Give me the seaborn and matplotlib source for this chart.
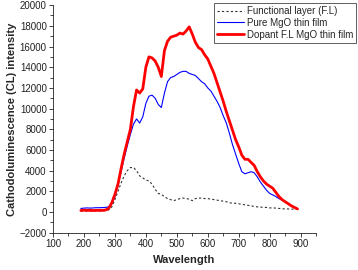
import numpy as np
import pandas as pd
import matplotlib
matplotlib.use("Agg")
import matplotlib.pyplot as plt
import seaborn as sns
from matplotlib.ticker import MultipleLocator

wavelength = list(range(190, 900, 10))

functional_layer = [100, 100, 100, 100, 100, 100, 100, 100, 150, 200,
                    500, 1200, 2000, 2800, 3500, 4000, 4300, 4300, 4000, 3500,
                    3300, 3100, 3000, 2700, 2200, 1800, 1700, 1500, 1300, 1200,
                    1100, 1200, 1300, 1350, 1300, 1250, 1100, 1300, 1350, 1350,
                    1300, 1300, 1250, 1200, 1150, 1100, 1050, 1000, 900, 850,
                    850, 800, 750, 700, 650, 600, 550, 500, 480, 450,
                    450, 400, 400, 380, 350, 320, 300, 300, 280, 280, 250]

pure_mgo = [350, 380, 400, 380, 400, 420, 420, 430, 450, 500,
            800, 1500, 2600, 3900, 5200, 6400, 7500, 8500, 9000, 8600,
            9200, 10500, 11200, 11300, 11000, 10400, 10100, 11500, 12600, 13000,
            13100, 13300, 13500, 13600, 13600, 13400, 13300, 13200, 12900, 12600,
            12400, 12000, 11700, 11200, 10700, 10100, 9300, 8600, 7600, 6500,
            5600, 4700, 3900, 3700, 3800, 3900, 3800, 3400, 2900, 2500,
            2100, 1800, 1650, 1500, 1300, 1150, 1000, 850, 650, 450, 300]

dopant_mgo = [150, 180, 160, 170, 150, 160, 170, 160, 200, 350,
              900, 1700, 2700, 4200, 5600, 6800, 8000, 10200, 11800, 11500,
              11900, 14000, 15000, 14900, 14600, 14000, 13100, 15600, 16500, 16900,
              17000, 17100, 17300, 17200, 17500, 17900, 17200, 16400, 15900, 15700,
              15200, 14800, 14100, 13400, 12500, 11600, 10700, 9700, 8800, 7900,
              7000, 6300, 5500, 5100, 5100, 4800, 4500, 3900, 3400, 3000,
              2700, 2500, 2300, 1900, 1500, 1200, 1000, 800, 600, 450, 300]

series_names = ["Functional layer (F.L)", "Pure MgO thin film", "Dopant F.L MgO thin film"]

df = pd.concat([
    pd.DataFrame({"Wavelength": wavelength, "Intensity": functional_layer, "Series": series_names[0]}),
    pd.DataFrame({"Wavelength": wavelength, "Intensity": pure_mgo, "Series": series_names[1]}),
    pd.DataFrame({"Wavelength": wavelength, "Intensity": dopant_mgo, "Series": series_names[2]}),
])

sns.set_style("ticks")
plt.rcParams["font.family"] = ["Liberation Sans", "DejaVu Sans"]

fig = plt.figure(figsize=(3.58, 2.70), dpi=100)
ax = fig.add_axes([0.148, 0.138, 0.735, 0.843])

palette = {series_names[0]: "#333333", series_names[1]: "#0000ff", series_names[2]: "#ff0000"}
sizes = {series_names[0]: 0.8, series_names[1]: 0.8, series_names[2]: 2.0}
dashes = {series_names[0]: (2, 2), series_names[1]: "", series_names[2]: ""}

sns.lineplot(data=df, x="Wavelength", y="Intensity", hue="Series", size="Series",
             sizes=sizes, style="Series", dashes=dashes, palette=palette,
             hue_order=series_names, ax=ax, legend=False)

ax.set_xlim(100, 950)
ax.set_ylim(-2000, 20000)
ax.xaxis.set_major_locator(MultipleLocator(100))
ax.xaxis.set_minor_locator(MultipleLocator(50))
ax.yaxis.set_major_locator(MultipleLocator(2000))
ax.yaxis.set_minor_locator(MultipleLocator(1000))
ax.set_xticks(range(100, 1000, 100))
ax.set_xticklabels([str(v) for v in range(100, 1000, 100)])
ax.tick_params(axis="both", which="major", direction="out", length=3, width=0.6,
               labelsize=7, colors="#222222", pad=1.5)
ax.tick_params(axis="both", which="minor", direction="out", length=2, width=0.6)
for s in ["top", "right"]:
    ax.spines[s].set_visible(False)
for s in ["left", "bottom"]:
    ax.spines[s].set_linewidth(0.6)
    ax.spines[s].set_color("#222222")

ax.set_xlabel("Wavelength", fontsize=8, fontweight="bold", labelpad=4)
ax.set_ylabel("Cathodoluminescence (CL) intensity", fontsize=8, fontweight="bold", labelpad=2)

from matplotlib.lines import Line2D
handles = [Line2D([], [], color="#333333", lw=0.8, dashes=(2, 2)),
           Line2D([], [], color="#0000ff", lw=0.8),
           Line2D([], [], color="#ff0000", lw=2.0)]
leg = fig.legend(handles, series_names, loc="upper right",
                 bbox_to_anchor=(356 / 358, 1 - 3 / 270), fontsize=7,
                 frameon=True, fancybox=False, framealpha=1, edgecolor="#444444",
                 borderpad=0.3, labelspacing=0.2, handlelength=2.8, handletextpad=0.3,
                 borderaxespad=0)
leg.get_frame().set_linewidth(0.6)

fig.savefig("out.png", dpi=100)
